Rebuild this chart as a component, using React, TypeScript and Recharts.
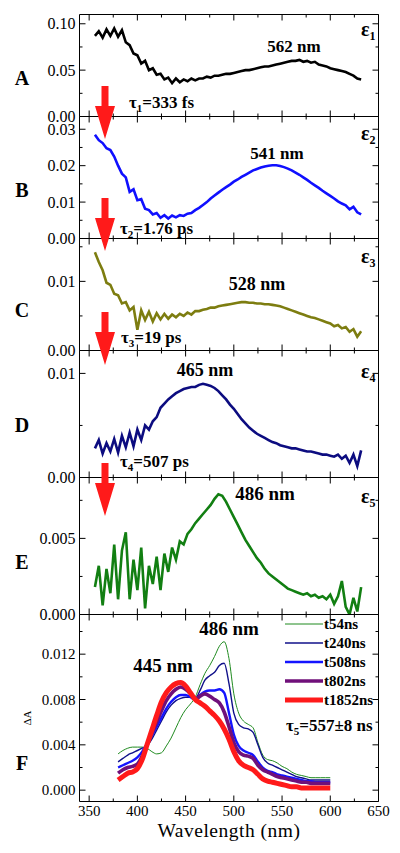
import { LineChart, Line, XAxis, YAxis, Legend, ReferenceArea } from 'recharts';

const FONT = "'Liberation Serif', 'Times New Roman', serif";

// wavelength grid of the five component spectra (nm)
const wavelengths = [
  356, 360, 364, 368, 372, 376, 380, 384, 388, 392, 396, 400, 404, 408, 412, 416, 420, 424, 428, 432,
  436, 440, 444, 448, 452, 456, 460, 464, 468, 472, 476, 480, 484, 488, 492, 496, 500, 504, 508, 512,
  516, 520, 524, 528, 532, 536, 540, 544, 548, 552, 556, 560, 564, 568, 572, 576, 580, 584, 588, 592,
  596, 600, 604, 608, 612, 616, 620, 624, 628, 632,
];

const eps1 = [
  0.087, 0.092, 0.085, 0.094, 0.087, 0.095, 0.086, 0.093, 0.080, 0.077, 0.068, 0.066, 0.057, 0.060, 0.050, 0.052, 0.045, 0.046, 0.040, 0.042,
  0.036, 0.041, 0.037, 0.040, 0.038, 0.041, 0.039, 0.041, 0.041, 0.043, 0.042, 0.044, 0.044, 0.045, 0.046, 0.046, 0.047, 0.048, 0.049, 0.050,
  0.050, 0.051, 0.052, 0.053, 0.054, 0.054, 0.055, 0.056, 0.057, 0.058, 0.059, 0.060, 0.060, 0.061, 0.059, 0.060, 0.058, 0.059, 0.056, 0.055,
  0.054, 0.052, 0.051, 0.050, 0.049, 0.048, 0.046, 0.044, 0.041, 0.040,
];

const eps2 = [
  0.0285, 0.0270, 0.0262, 0.0248, 0.0243, 0.0225, 0.0200, 0.0178, 0.0168, 0.0128, 0.0135, 0.0105, 0.0108, 0.0082, 0.0078, 0.0066, 0.0070, 0.0057, 0.0064, 0.0055,
  0.0063, 0.0058, 0.0064, 0.0062, 0.0068, 0.0070, 0.0078, 0.0084, 0.0092, 0.0100, 0.0110, 0.0118, 0.0126, 0.0134, 0.0141, 0.0148, 0.0156, 0.0162, 0.0169, 0.0175,
  0.0181, 0.0187, 0.0191, 0.0195, 0.0198, 0.0200, 0.0201, 0.0201, 0.0199, 0.0196, 0.0192, 0.0187, 0.0181, 0.0175, 0.0168, 0.0161, 0.0153, 0.0146, 0.0139, 0.0131,
  0.0124, 0.0117, 0.0110, 0.0102, 0.0096, 0.0091, 0.0080, 0.0087, 0.0072, 0.0066,
];

const eps3 = [
  0.0142, 0.0128, 0.0116, 0.0098, 0.0095, 0.0082, 0.0080, 0.0068, 0.0070, 0.0058, 0.0063, 0.0030, 0.0058, 0.0044, 0.0056, 0.0042, 0.0054, 0.0045, 0.0053, 0.0046,
  0.0052, 0.0048, 0.0053, 0.0050, 0.0055, 0.0052, 0.0057, 0.0057, 0.0059, 0.0060, 0.0062, 0.0062, 0.0064, 0.0065, 0.0066, 0.0067, 0.0068, 0.0069, 0.0070, 0.0070,
  0.0069, 0.0069, 0.0068, 0.0068, 0.0067, 0.0067, 0.0066, 0.0065, 0.0064, 0.0062, 0.0060, 0.0058, 0.0056, 0.0054, 0.0052, 0.0050, 0.0048, 0.0047, 0.0045, 0.0043,
  0.0041, 0.0039, 0.0035, 0.0037, 0.0032, 0.0034, 0.0027, 0.0031, 0.0020, 0.0028,
];

const eps4 = [
  0.0028, 0.0036, 0.0023, 0.0033, 0.0025, 0.0037, 0.0024, 0.0040, 0.0029, 0.0043, 0.0030, 0.0046, 0.0036, 0.0050, 0.0046, 0.0054, 0.0058, 0.0067, 0.0071, 0.0075,
  0.0078, 0.0081, 0.0083, 0.0085, 0.0086, 0.0087, 0.0087, 0.0089, 0.0090, 0.0089, 0.0088, 0.0086, 0.0083, 0.0079, 0.0075, 0.0070, 0.0066, 0.0061, 0.0056, 0.0052,
  0.0048, 0.0045, 0.0042, 0.0040, 0.0038, 0.0036, 0.0034, 0.0033, 0.0031, 0.0030, 0.0029, 0.0028, 0.0028, 0.0027, 0.0026, 0.0025, 0.0025, 0.0024, 0.0023, 0.0022,
  0.0022, 0.0021, 0.0020, 0.0022, 0.0018, 0.0021, 0.0014, 0.0022, 0.0011, 0.0026,
];

const eps5 = [
  0.0018, 0.0032, 0.0006, 0.0030, 0.0014, 0.0046, 0.0010, 0.0042, 0.0054, 0.0010, 0.0036, 0.0016, 0.0044, 0.0004, 0.0032, 0.0020, 0.0038, 0.0016, 0.0040, 0.0028,
  0.0044, 0.0036, 0.0048, 0.0046, 0.0053, 0.0056, 0.0060, 0.0063, 0.0066, 0.0069, 0.0072, 0.0076, 0.0079, 0.0078, 0.0074, 0.0069, 0.0064, 0.0059, 0.0054, 0.0049,
  0.0045, 0.0041, 0.0037, 0.0034, 0.0030, 0.0027, 0.0025, 0.0023, 0.0021, 0.0019, 0.0017, 0.0016, 0.0015, 0.0014, 0.0013, 0.0014, 0.0012, 0.0013, 0.0011, 0.0012,
  0.0010, 0.0013, 0.0007, 0.0012, 0.0022, 0.0005, 0.0000, 0.0011, 0.0002, 0.0018,
];

// panel F: transient spectra at delays
const fWavelengths = [
  380, 385, 390, 395, 400, 405, 410, 415, 420, 425, 430, 435, 440, 445, 450, 455, 460, 465, 470, 475,
  480, 485, 490, 495, 500, 505, 510, 515, 520, 525, 530, 535, 540, 545, 550, 555, 560, 565, 570, 575,
  580, 585, 590, 595, 600,
];
const t54 = [
  0.0032, 0.0035, 0.0037, 0.0038, 0.0038, 0.0038, 0.0037, 0.0034, 0.0032, 0.0033, 0.0039, 0.0046, 0.0055, 0.0064, 0.0071, 0.0076, 0.0082, 0.0093, 0.0103, 0.0110,
  0.0118, 0.0127, 0.0131, 0.0116, 0.0085, 0.0068, 0.0061, 0.0058, 0.0055, 0.0042, 0.0031, 0.0027, 0.0026, 0.0024, 0.0021, 0.0019, 0.0016, 0.0014, 0.0013, 0.0012,
  0.0011, 0.0011, 0.0011, 0.0011, 0.0011,
];
const t240 = [
  0.0025, 0.0028, 0.0031, 0.0033, 0.0035, 0.0037, 0.0039, 0.0045, 0.0053, 0.0061, 0.0069, 0.0075, 0.0079, 0.0081, 0.0082, 0.0082, 0.0081, 0.0088, 0.0097, 0.0101,
  0.0104, 0.0110, 0.0112, 0.0094, 0.0068, 0.0058, 0.0055, 0.0054, 0.0051, 0.0040, 0.0029, 0.0024, 0.0022, 0.0020, 0.0018, 0.0016, 0.0014, 0.0012, 0.0011, 0.0010,
  0.0009, 0.0009, 0.0009, 0.0009, 0.0009,
];
const t508 = [
  0.0020, 0.0022, 0.0024, 0.0026, 0.0029, 0.0034, 0.0041, 0.0048, 0.0056, 0.0064, 0.0072, 0.0078, 0.0082, 0.0084, 0.0084, 0.0082, 0.0080, 0.0084, 0.0087, 0.0088,
  0.0088, 0.0089, 0.0086, 0.0068, 0.0049, 0.0039, 0.0035, 0.0033, 0.0031, 0.0025, 0.0020, 0.0017, 0.0016, 0.0014, 0.0013, 0.0012, 0.0011, 0.0010, 0.0009, 0.0008,
  0.0008, 0.0007, 0.0007, 0.0007, 0.0007,
];
const t802 = [
  0.0015, 0.0018, 0.0020, 0.0021, 0.0023, 0.0030, 0.0040, 0.0050, 0.0060, 0.0070, 0.0079, 0.0085, 0.0089, 0.0091, 0.0089, 0.0085, 0.0080, 0.0083, 0.0085, 0.0083,
  0.0080, 0.0077, 0.0069, 0.0056, 0.0042, 0.0034, 0.0031, 0.0030, 0.0028, 0.0022, 0.0018, 0.0016, 0.0014, 0.0012, 0.0011, 0.0010, 0.0009, 0.0008, 0.0007, 0.0007,
  0.0006, 0.0006, 0.0006, 0.0006, 0.0006,
];
const t1852 = [
  0.0009, 0.0012, 0.0015, 0.0016, 0.0019, 0.0027, 0.0040, 0.0053, 0.0066, 0.0078, 0.0086, 0.0091, 0.0094, 0.0095, 0.0092, 0.0086, 0.0080, 0.0077, 0.0074, 0.0070,
  0.0066, 0.0061, 0.0054, 0.0045, 0.0034, 0.0026, 0.0022, 0.0020, 0.0018, 0.0014, 0.0010, 0.0008, 0.0007, 0.0006, 0.0005, 0.0004, 0.0003, 0.0003, 0.0002, 0.0002,
  0.0002, 0.0002, 0.0002, 0.0002, 0.0002,
];

const xTicks = [350, 375, 400, 425, 450, 475, 500, 525, 550, 575, 600, 625, 650];
const xTickLabels = ['350', '', '400', '', '450', '', '500', '', '550', '', '600', '', '650'];

const fSeries = [
  { key: 't54', name: 't54ns', values: t54, color: '#1f8a1f', width: 1 },
  { key: 't240', name: 't240ns', values: t240, color: '#10108a', width: 1.4 },
  { key: 't508', name: 't508ns', values: t508, color: '#1414ff', width: 2.4 },
  { key: 't802', name: 't802ns', values: t802, color: '#70107a', width: 3.6 },
  { key: 't1852', name: 't1852ns', values: t1852, color: '#ff1a1a', width: 5 },
];

const panels = [
  { id: 'A', top: 14, bottom: 116, domain: [0, 0.11], ticks: [0, 0.025, 0.05, 0.075, 0.1], labels: ['0.00', '', '0.05', '', '0.10'], values: eps1, color: '#000000' },
  { id: 'B', top: 116, bottom: 238, domain: [0, 0.0335], ticks: [0, 0.005, 0.01, 0.015, 0.02, 0.025, 0.03], labels: ['0.00', '', '0.01', '', '0.02', '', '0.03'], values: eps2, color: '#1010ff' },
  { id: 'C', top: 238, bottom: 350, domain: [0, 0.0162], ticks: [0, 0.005, 0.01, 0.015], labels: ['0.00', '', '0.01', ''], values: eps3, color: '#7d7d10' },
  { id: 'D', top: 350, bottom: 477, domain: [0, 0.0122], ticks: [0, 0.005, 0.01], labels: ['0.00', '', '0.01'], values: eps4, color: '#0c0c80' },
  { id: 'E', top: 477, bottom: 614, domain: [0, 0.009], ticks: [0, 0.0025, 0.005, 0.0075], labels: ['0.000', '', '0.005', ''], values: eps5, color: '#127f12' },
];

const fTop = 614;
const fBottom = 801;
const fDomain = [-0.001, 0.0155];
const fTicks = [0, 0.002, 0.004, 0.006, 0.008, 0.01, 0.012, 0.014];
const fTickLabels = ['0.000', '', '0.004', '', '0.008', '', '0.012', ''];

const PAD = 12;
const LEFT = 79.5;
const RIGHT = 378.5;

const labelOf = (ticks: number[], labels: string[], v: number) => {
  const i = ticks.findIndex((t) => Math.abs(t - v) < 1e-9);
  return i >= 0 ? labels[i] : '';
};

// y ticks drawn on both sides of the frame, pointing inward
const makeYTick = (ticks: number[], labels: string[], fontSize: number) => (props: any) => {
  const y = props.y;
  const lab = labelOf(ticks, labels, props.payload.value);
  const len = lab ? 6 : 3;
  return (
    <g>
      <line x1={LEFT} x2={LEFT + len} y1={y} y2={y} stroke="#000" />
      <line x1={RIGHT} x2={RIGHT - len} y1={y} y2={y} stroke="#000" />
      {lab && (
        <text x={LEFT - 4} y={y} dy="0.35em" textAnchor="end" fontSize={fontSize} fontFamily={FONT} fill="#000">{lab}</text>
      )}
    </g>
  );
};

// x ticks on top and bottom of the frame
const makeXTick = (plotTop: number, plotBottom: number, showLabels: boolean) => (props: any) => {
  const x = props.x;
  const lab = labelOf(xTicks, xTickLabels, props.payload.value);
  const len = lab ? 6 : 3;
  return (
    <g>
      <line x1={x} x2={x} y1={plotBottom} y2={plotBottom - len} stroke="#000" />
      <line x1={x} x2={x} y1={plotTop} y2={plotTop + len} stroke="#000" />
      {showLabels && lab && (
        <text x={x} y={plotBottom + 14} textAnchor="middle" fontSize={15} fontFamily={FONT} fill="#000">{lab}</text>
      )}
    </g>
  );
};

const EpsPanel = ({ p }: any) => {
  const data = wavelengths.map((w, i) => ({ w, v: p.values[i] }));
  const ph = p.bottom - p.top;
  const h = ph + PAD * 2;
  const plotTop = PAD + 0.5;
  const plotBottom = plotTop + ph;
  return (
    <div style={{ position: 'absolute', left: 0, top: p.top - PAD }}>
      <LineChart width={400} height={h} data={data}
        margin={{ top: plotTop, right: 400 - RIGHT, bottom: h - plotBottom - 1, left: LEFT - 40 }}>
        <XAxis dataKey="w" type="number" domain={[340, 650]} ticks={xTicks} interval={0} height={1}
          axisLine={false} tickLine={false} allowDataOverflow tick={makeXTick(plotTop, plotBottom, false)} />
        <YAxis type="number" domain={p.domain} ticks={p.ticks} interval={0} width={40}
          axisLine={false} tickLine={false} allowDataOverflow tick={makeYTick(p.ticks, p.labels, 16)} />
        <ReferenceArea x1={340} x2={650} y1={p.domain[0]} y2={p.domain[1]} fill="none" stroke="#000"
          strokeWidth={1} ifOverflow="visible" />
        <Line dataKey="v" stroke={p.color} strokeWidth={2.6} dot={false} type="linear" isAnimationActive={false} />
      </LineChart>
    </div>
  );
};

const FLegend = () => (
  <svg width={100} height={100} style={{ overflow: 'visible' }}>
    {fSeries.map((s, i) => {
      const y = 8 + i * 19;
      return (
        <g key={s.key}>
          <line x1={0} x2={38} y1={y} y2={y} stroke={s.color} strokeWidth={s.width} />
          <text x={39} y={y + 5} fontSize={15} fontWeight="bold" fontFamily={FONT} fill="#000">{s.name}</text>
        </g>
      );
    })}
  </svg>
);

const FPanel = () => {
  const data = fWavelengths.map((w, i) => {
    const row: any = { w };
    fSeries.forEach((s) => (row[s.key] = s.values[i]));
    return row;
  });
  const ph = fBottom - fTop;
  const xh = 45;
  const h = PAD + ph + xh + 5;
  const plotTop = PAD + 0.5;
  const plotBottom = plotTop + ph;
  return (
    <div style={{ position: 'absolute', left: 0, top: fTop - PAD }}>
      <LineChart width={400} height={h} data={data}
        margin={{ top: plotTop, right: 400 - RIGHT, bottom: h - plotBottom - xh, left: LEFT - 40 }}>
        <XAxis dataKey="w" type="number" domain={[340, 650]} ticks={xTicks} interval={0} height={xh}
          axisLine={false} tickLine={false} allowDataOverflow tick={makeXTick(plotTop, plotBottom, true)}
          label={{ value: 'Wavelength (nm)', position: 'insideBottom', offset: 10, fontSize: 19.5, fill: '#000', fontFamily: FONT, letterSpacing: 0.5 }} />
        <YAxis type="number" domain={fDomain} ticks={fTicks} interval={0} width={40}
          axisLine={false} tickLine={false} allowDataOverflow tick={makeYTick(fTicks, fTickLabels, 15)} />
        <ReferenceArea x1={340} x2={650} y1={fDomain[0]} y2={fDomain[1]} fill="none" stroke="#000"
          strokeWidth={1} ifOverflow="visible" />
        {fSeries.map((s) => (
          <Line key={s.key} dataKey={s.key} name={s.name} stroke={s.color} strokeWidth={s.width} dot={false}
            type="monotone" isAnimationActive={false} />
        ))}
        <Legend layout="horizontal" verticalAlign="middle" align="center" content={<FLegend />}
          wrapperStyle={{ left: 285, top: 14, width: 100, height: 100 }} />
      </LineChart>
    </div>
  );
};

const Arrow = ({ y }: { y: number }) => {
  const x = 105;
  return (
    <polygon
      points={`${x - 3.5},${y} ${x + 3.5},${y} ${x + 3.5},${y + 20} ${x + 10},${y + 20} ${x},${y + 53} ${x - 10},${y + 20} ${x - 3.5},${y + 20}`}
      fill="#ff1a1a"
    />
  );
};

const Eps = ({ x, y, n }: { x: number; y: number; n: string }) => (
  <text x={x} y={y} fontSize={20} fontWeight="bold" fontFamily={FONT}>
    ε<tspan fontSize={12} dy={4}>{n}</tspan>
  </text>
);

const Tau = ({ x, y, n, rest }: { x: number; y: number; n: string; rest: string }) => (
  <text x={x} y={y} fontSize={17} fontWeight="bold" fontFamily={FONT}>
    τ<tspan fontSize={11} dy={4}>{n}</tspan><tspan dy={-4}>{rest}</tspan>
  </text>
);

const Peak = ({ x, y, s, size = 18 }: { x: number; y: number; s: string; size?: number }) => (
  <text x={x} y={y} fontSize={size} fontWeight="bold" fontFamily={FONT} textAnchor="middle">{s}</text>
);

const letters = [
  { id: 'A', y: 85 },
  { id: 'B', y: 197 },
  { id: 'C', y: 317 },
  { id: 'D', y: 432 },
  { id: 'E', y: 569 },
  { id: 'F', y: 770 },
];

export default function App() {
  return (
    <div style={{ position: 'absolute', left: 0, top: 0, width: 400, height: 853, background: '#fff', fontFamily: FONT }}>
      {panels.map((p) => (
        <EpsPanel key={p.id} p={p} />
      ))}
      <FPanel />
      <svg width={400} height={853} style={{ position: 'absolute', left: 0, top: 0, pointerEvents: 'none' }}>
        {letters.map((l) => (
          <text key={l.id} x={22} y={l.y} fontSize={20} fontWeight="bold" fontFamily={FONT} textAnchor="middle">{l.id}</text>
        ))}
        <Eps x={361} y={36} n="1" />
        <Eps x={361} y={140} n="2" />
        <Eps x={361} y={263} n="3" />
        <Eps x={361} y={378} n="4" />
        <Eps x={361} y={503} n="5" />
        <Peak x={294} y={52} s="562 nm" size={17} />
        <Peak x={277} y={159} s="541 nm" size={17} />
        <Peak x={257} y={290} s="528 nm" />
        <Peak x={205} y={376} s="465 nm" />
        <Peak x={265} y={500} s="486 nm" size={19} />
        <Peak x={229} y={635} s="486 nm" size={19} />
        <Peak x={163} y={672} s="445 nm" size={19} />
        <Tau x={129} y={108} n="1" rest="=333 fs" />
        <Tau x={120} y={234} n="2" rest="=1.76 ps" />
        <Tau x={121} y={343} n="3" rest="=19 ps" />
        <Tau x={120} y={467} n="4" rest="=507 ps" />
        <Tau x={286} y={731} n="5" rest="=557±8 ns" />
        <text x={0} y={0} fontSize={11} fontFamily={FONT} transform="translate(31,718) rotate(-90)" textAnchor="middle">ΔA</text>
        <Arrow y={86} />
        <Arrow y={198} />
        <Arrow y={312} />
        <Arrow y={463} />
      </svg>
    </div>
  );
}
